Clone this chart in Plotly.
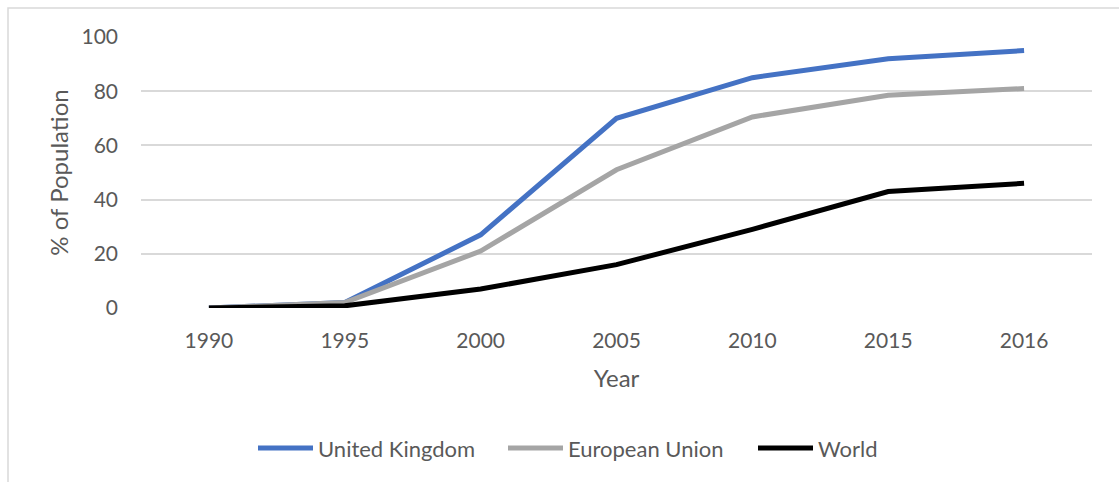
import plotly.graph_objects as go

years = ["1990", "1995", "2000", "2005", "2010", "2015", "2016"]
united_kingdom = [0, 2, 27, 70, 85, 92, 95]
european_union = [0, 2, 21, 51, 70.5, 78.5, 81]
world = [0, 0.8, 7, 16, 29, 43, 46]

series = [
    ("United Kingdom", united_kingdom, "#4472C4"),
    ("European Union", european_union, "#A5A5A5"),
    ("World", world, "#000000"),
]

TEXT = "#595959"
GRID = "#D9D9D9"
FONT = "Lato"

fig = go.Figure()
for name, vals, color in series:
    fig.add_trace(go.Scatter(
        x=years, y=vals, name=name, mode="lines",
        line=dict(color=color, width=5),
    ))

W, H = 1119, 482
L, R, T, B = 141, 27, 37, 173.5
pw, ph = W - L - R, H - T - B

def px_to_paper(x=None, y=None):
    if x is not None:
        return (x - L) / pw
    return (H - B - y) / ph

fig.update_layout(
    width=W, height=H,
    margin=dict(l=L, r=R, t=T, b=B, pad=0),
    paper_bgcolor="white", plot_bgcolor="white",
    font=dict(family=FONT, size=21, color=TEXT),
    showlegend=True,
    legend=dict(
        orientation="h", x=px_to_paper(x=628), xanchor="center",
        y=px_to_paper(y=449), yanchor="middle",
        font=dict(family=FONT, size=22, color=TEXT),
        itemwidth=55, traceorder="normal",
        entrywidth=180, entrywidthmode="pixels",
    ),
    xaxis=dict(
        type="category", range=[-0.5, 6.5],
        showgrid=False, zeroline=False, showline=False,
        ticks="", ticklabelstandoff=18,
        title=dict(text="Year", font=dict(family=FONT, size=24, color=TEXT), standoff=19),
        tickfont=dict(family=FONT, size=21, color=TEXT),
    ),
    yaxis=dict(
        range=[0, 100], dtick=20, tick0=0,
        showgrid=True, gridcolor=GRID, gridwidth=1.5,
        zeroline=False, showline=False, ticks="",
        ticklabelstandoff=22,
        title=dict(text="% of Population", font=dict(family=FONT, size=24, color=TEXT), standoff=6),
        tickfont=dict(family=FONT, size=21, color=TEXT),
    ),
    shapes=[dict(
        type="rect", xref="paper", yref="paper", layer="below",
        x0=px_to_paper(x=8), x1=px_to_paper(x=1130),
        y0=px_to_paper(y=495), y1=px_to_paper(y=8),
        line=dict(color=GRID, width=1.5), fillcolor="rgba(0,0,0,0)",
    )],
)

fig.write_html("out.html")
